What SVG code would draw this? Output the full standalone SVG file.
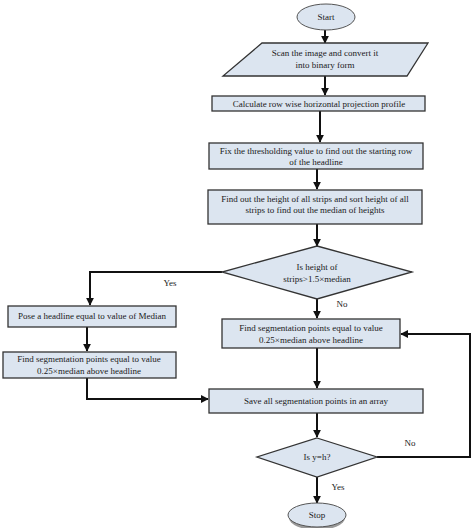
<svg xmlns="http://www.w3.org/2000/svg" width="474" height="528" viewBox="0 0 474 528">
<defs>
<style>
.n{fill:#dce5f0;stroke:#333;stroke-width:1.3}
.e{fill:#dce5f0;stroke:#555;stroke-width:1}
.c{fill:none;stroke:#111;stroke-width:2}
text{font-family:"Liberation Serif","Times New Roman",serif;font-size:9px;fill:#1a1a1a;text-anchor:middle}
</style>
<marker id="a" viewBox="0 0 10 10" refX="9" refY="5" markerWidth="4" markerHeight="4" orient="auto" markerUnits="strokeWidth">
<path d="M0,0 L10,5 L0,10 z" fill="#111"/>
</marker>
</defs>
<rect width="474" height="528" fill="#fff"/>
<g id="connectors">
<path class="c" d="M325,30 V43" marker-end="url(#a)"/>
<path class="c" d="M325,76 V95" marker-end="url(#a)"/>
<path class="c" d="M320,111 V142" marker-end="url(#a)"/>
<path class="c" d="M317,169 V189" marker-end="url(#a)"/>
<path class="c" d="M317,224 V246" marker-end="url(#a)"/>
<path class="c" d="M222,272 H90 V305" marker-end="url(#a)"/>
<path class="c" d="M317,299 V318" marker-end="url(#a)"/>
<path class="c" d="M87,327 V351" marker-end="url(#a)"/>
<path class="c" d="M87,378 V399 H208" marker-end="url(#a)"/>
<path class="c" d="M317,348 V388" marker-end="url(#a)"/>
<path class="c" d="M317,413 V437" marker-end="url(#a)"/>
<path class="c" d="M377,457 H470 V334 H401" marker-end="url(#a)"/>
<path class="c" d="M317,477 V503" marker-end="url(#a)"/>
<text x="170" y="286">Yes</text>
<text x="342" y="307">No</text>
<text x="410" y="446">No</text>
<text x="338" y="490">Yes</text>
</g>
<g id="start">
<ellipse class="e" cx="326" cy="17" rx="29" ry="13"/>
<text x="326" y="20">Start</text>
</g>
<g id="scan">
<polygon class="n" points="262,43 428,43 407,76 223,76"/>
<text x="325" y="56">Scan the image and convert it</text>
<text x="325" y="68">into binary form</text>
</g>
<g id="calc">
<rect class="n" x="212" y="96" width="213" height="15"/>
<text x="319" y="106.5">Calculate row wise horizontal projection profile</text>
</g>
<g id="fix">
<rect class="n" x="209" y="143" width="214" height="26"/>
<text x="316" y="154">Fix the thresholding value to find out the starting row</text>
<text x="316" y="165">of the headline</text>
</g>
<g id="find-height">
<rect class="n" x="208" y="190" width="214" height="34"/>
<text x="315" y="202">Find out the height of all strips and sort height of all</text>
<text x="315" y="213">strips to find out the median of heights</text>
</g>
<g id="decision1">
<polygon class="n" points="317,246 412,272 317,299 222,272"/>
<text x="317" y="270">Is height of</text>
<text x="317" y="282">strips&gt;1.5×median</text>
</g>
<g id="pose">
<rect class="n" x="8" y="306" width="168" height="21"/>
<text x="92" y="319">Pose a headline equal to value of Median</text>
</g>
<g id="seg-left">
<rect class="n" x="3" y="352" width="173" height="26"/>
<text x="89" y="362">Find segmentation points equal to value</text>
<text x="89" y="374">0.25×median above headline</text>
</g>
<g id="seg-right">
<rect class="n" x="222" y="319" width="178" height="29"/>
<text x="311" y="331">Find segmentation points equal to value</text>
<text x="311" y="343">0.25×median above headline</text>
</g>
<g id="save">
<rect class="n" x="209" y="389" width="214" height="24"/>
<text x="316" y="404">Save all segmentation points in an array</text>
</g>
<g id="decision2">
<polygon class="n" points="317,438 377,457 317,477 257,457"/>
<text x="317" y="460">Is y=h?</text>
</g>
<g id="stop">
<ellipse cx="317" cy="518" rx="28" ry="12" fill="#999"/>
<ellipse class="e" cx="317" cy="515" rx="29" ry="12"/>
<text x="317" y="518">Stop</text>
</g>
</svg>
